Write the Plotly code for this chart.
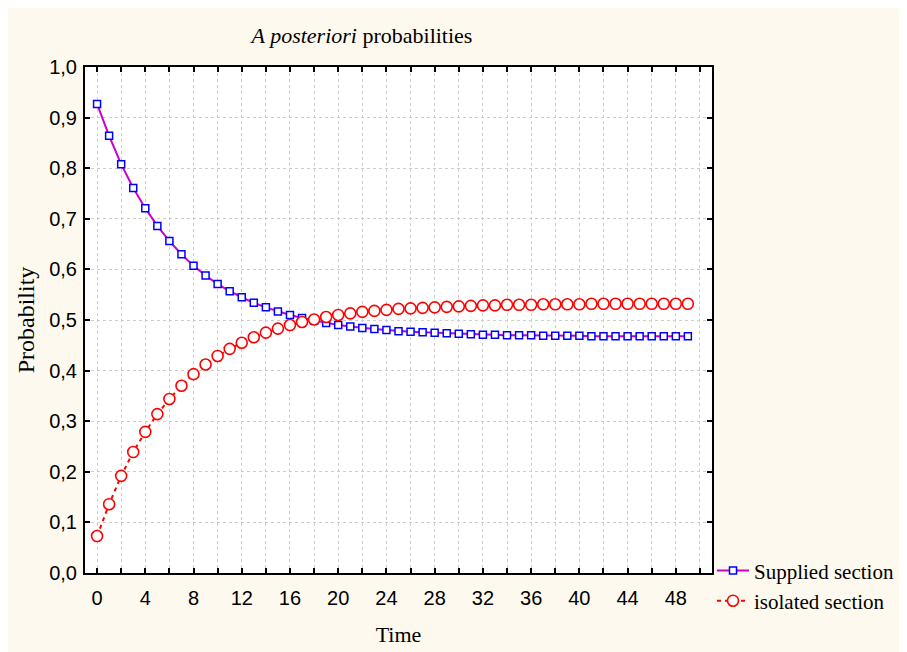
import plotly.graph_objects as go

time = list(range(50))
supplied = [0.927, 0.864, 0.808, 0.761, 0.721, 0.686, 0.656, 0.630, 0.607, 0.588,
            0.571, 0.557, 0.545, 0.534, 0.525, 0.517, 0.510, 0.504, 0.499, 0.494,
            0.490, 0.487, 0.484, 0.482, 0.480, 0.478, 0.477, 0.476, 0.475, 0.474,
            0.473, 0.472, 0.471, 0.471, 0.470, 0.470, 0.470, 0.469, 0.469, 0.469,
            0.469, 0.468, 0.468, 0.468, 0.468, 0.468, 0.468, 0.468, 0.468, 0.468]
isolated = [0.073, 0.136, 0.192, 0.239, 0.279, 0.314, 0.344, 0.370, 0.393, 0.412,
            0.429, 0.443, 0.455, 0.466, 0.475, 0.483, 0.490, 0.496, 0.501, 0.506,
            0.510, 0.513, 0.516, 0.518, 0.520, 0.522, 0.523, 0.524, 0.525, 0.526,
            0.527, 0.528, 0.529, 0.529, 0.530, 0.530, 0.530, 0.531, 0.531, 0.531,
            0.531, 0.532, 0.532, 0.532, 0.532, 0.532, 0.532, 0.532, 0.532, 0.532]
x_ticks = list(range(0, 49, 4))
y_ticks = [i / 10 for i in range(11)]

W, H = 907, 652
OFF = 8  # page body margin
L, R, T, B = 84.7 - OFF, 711.7 - OFF, 66.7 - OFF, 572.7 - OFF

SERIF = "Liberation Serif, Times New Roman, serif"
SANS = "Liberation Sans, Arial, sans-serif"

fig = go.Figure()
fig.add_trace(go.Scatter(
    x=time, y=supplied, mode="lines+markers", name="Supplied section",
    line=dict(color="#CC00CC", width=2),
    marker=dict(symbol="square", size=7, color="white",
                line=dict(color="#0000FF", width=1.5)),
))
fig.add_trace(go.Scatter(
    x=time, y=isolated, mode="lines+markers", name="isolated section",
    line=dict(color="#FF0000", width=2, dash="4px,4px"),
    marker=dict(symbol="circle", size=11, color="white",
                line=dict(color="#FF0000", width=1.6)),
))

axis_common = dict(
    showline=True, linecolor="black", linewidth=2, mirror="allticks",
    ticks="inside", ticklen=5, tickwidth=1.5, tickcolor="black",
    showgrid=True, gridcolor="#CCCCCC", gridwidth=1, griddash="dot",
    zeroline=False, automargin=False,
    tickfont=dict(family=SANS, size=20, color="black"),
)

fig.update_layout(
    width=W, height=H,
    margin=dict(l=L, r=W - R, t=T, b=H - B, autoexpand=False),
    paper_bgcolor="#FDF9EE", plot_bgcolor="white",
    separators=", ",
    title=dict(text="<i>A posteriori</i> probabilities", x=(362 - OFF) / W, xanchor="center",
               y=1 - (35 - OFF) / H, yanchor="middle",
               font=dict(family=SERIF, size=22, color="black")),
    xaxis=dict(**axis_common, range=[-1, 51], tickvals=x_ticks, ticklabelstandoff=6,
               minor=dict(dtick=2, tick0=0, ticks="inside", ticklen=5, tickwidth=1.5,
                          tickcolor="black", showgrid=True, gridcolor="#CCCCCC",
                          griddash="dot", gridwidth=1),
               title=dict(text="Time", standoff=19,
                          font=dict(family=SERIF, size=22, color="black"))),
    yaxis=dict(**axis_common, range=[0, 1], tickvals=y_ticks, tickformat=".1f",
               ticklabelstandoff=2,
               title=dict(text="Probability", standoff=8,
                          font=dict(family=SERIF, size=24, color="black"))),
    legend=dict(x=1.0, y=0.045, xanchor="left", yanchor="top",
                bgcolor="rgba(0,0,0,0)", tracegroupgap=0, itemwidth=32,
                font=dict(family=SERIF, size=21, color="black")),
)

fig.write_html("out.html")
